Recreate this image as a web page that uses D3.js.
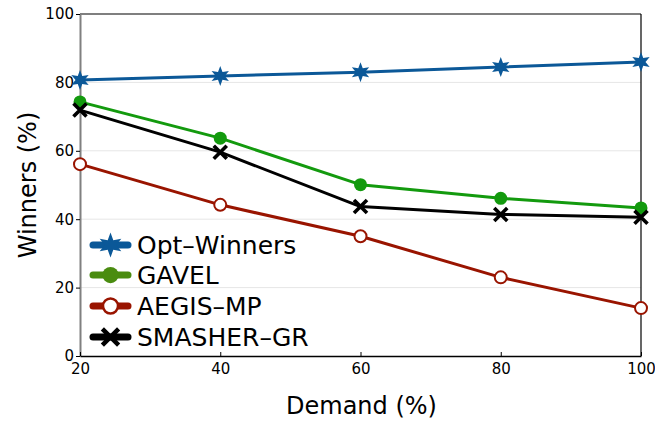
<!DOCTYPE html>
<html>
<head>
<meta charset="utf-8">
<script src="https://cdn.jsdelivr.net/npm/d3@7"></script>
<style>
  html, body { margin: 0; padding: 0; background: #fff; }
  svg { display: block; font-family: "DejaVu Sans", sans-serif; }
</style>
</head>
<body>
<svg id="chart" width="655" height="423"></svg>
<script>
// Demand levels (%) on the x axis
const demand = [20, 40, 60, 80, 100];

// Share of winners (%) per method
const optWinners = [80.7, 81.9, 83.0, 84.5, 86.0];
const gavel      = [74.3, 63.7, 50.1, 46.1, 43.3];
const aegisMp    = [56.1, 44.2, 35.0, 23.0, 14.0];
const smasherGr  = [71.9, 59.6, 43.7, 41.4, 40.6];

const seriesNames = ["Opt\u2013Winners", "GAVEL", "AEGIS\u2013MP", "SMASHER\u2013GR"];
const xTicks = [20, 40, 60, 80, 100];
const yTicks = [0, 20, 40, 60, 80, 100];

const series = [
  { name: seriesNames[0], values: optWinners, color: "#0b5898", legendColor: "#0b5898", marker: "star" },
  { name: seriesNames[1], values: gavel,      color: "#139a0e", legendColor: "#4a8c10", marker: "dot" },
  { name: seriesNames[2], values: aegisMp,    color: "#991400", legendColor: "#991400", marker: "ring" },
  { name: seriesNames[3], values: smasherGr,  color: "#000000", legendColor: "#000000", marker: "cross" }
];

const svg = d3.select("#chart");
const m = { left: 80, right: 14, top: 14, bottom: 67 };
const W = 655, H = 423;

const x = d3.scaleLinear().domain([20, 100]).range([m.left, W - m.right]);
const y = d3.scaleLinear().domain([0, 100]).range([H - m.bottom, m.top]);

// horizontal grid lines
svg.append("g").selectAll("line")
  .data(yTicks.filter(t => t > 0 && t < 100))
  .join("line")
  .attr("x1", x.range()[0]).attr("x2", x.range()[1])
  .attr("y1", d => y(d)).attr("y2", d => y(d))
  .attr("stroke", "#e6e6e6").attr("stroke-width", 1);

// frame: top and right in black
svg.append("line").attr("x1", x.range()[0]).attr("x2", x.range()[1])
  .attr("y1", y(100)).attr("y2", y(100)).attr("stroke", "#000").attr("stroke-width", 1.2);
svg.append("line").attr("x1", x(100)).attr("x2", x(100))
  .attr("y1", y(100)).attr("y2", y(0)).attr("stroke", "#000").attr("stroke-width", 1.2);

// y axis
const yAxis = svg.append("g")
  .attr("transform", `translate(${m.left},0)`)
  .call(d3.axisLeft(y).tickValues(yTicks).tickSize(4).tickSizeOuter(0).tickPadding(2));
yAxis.select(".domain").attr("stroke", "#808080").attr("stroke-width", 2);
yAxis.selectAll(".tick line").attr("stroke", "#000");
yAxis.selectAll("text").attr("font-size", 15).attr("fill", "#000")
  .attr("font-family", "DejaVu Sans");

// x axis with inward ticks
const xAxis = svg.append("g")
  .attr("transform", `translate(0,${y(0)})`)
  .call(d3.axisBottom(x).tickValues(xTicks).tickSize(-4).tickSizeOuter(0).tickPadding(7));
xAxis.select(".domain").attr("stroke", "#000").attr("stroke-width", 1.6);
xAxis.selectAll(".tick line").attr("stroke", "#000");
xAxis.selectAll("text").attr("font-size", 15).attr("fill", "#000")
  .attr("font-family", "DejaVu Sans");

// axis titles
svg.append("text")
  .attr("x", (x.range()[0] + x.range()[1]) / 2 + 1).attr("y", 414)
  .attr("text-anchor", "middle").attr("font-size", 24).attr("fill", "#000")
  .text("Demand (%)");
svg.append("text")
  .attr("transform", `translate(36,${(y(0) + y(100)) / 2}) rotate(-90)`)
  .attr("text-anchor", "middle").attr("font-size", 24).attr("fill", "#000")
  .text("Winners (%)");

// marker shapes
const star6 = d3.symbol().type({
  draw(ctx, size) {
    const R = Math.sqrt(size) * 0.62, r = R * 0.45;
    for (let i = 0; i < 12; i++) {
      const a = -Math.PI / 2 + i * Math.PI / 6;
      const rr = i % 2 === 0 ? R : r;
      const px = rr * Math.cos(a), py = rr * Math.sin(a);
      if (i === 0) ctx.moveTo(px, py); else ctx.lineTo(px, py);
    }
    ctx.closePath();
  }
});

function drawMarker(g, kind, color, scale) {
  const s = scale || 1;
  if (kind === "star") {
    g.append("path").attr("d", star6.size(260 * s * s)()).attr("fill", color);
  } else if (kind === "dot") {
    g.append("circle").attr("r", 6.5 * s).attr("fill", color);
  } else if (kind === "ring") {
    g.append("circle").attr("r", 6 * s).attr("fill", "#fff")
      .attr("stroke", color).attr("stroke-width", 2 * s);
  } else if (kind === "cross") {
    const a = 6.5 * s;
    g.append("path").attr("d", `M${-a},${-a}L${a},${a}M${-a},${a}L${a},${-a}`)
      .attr("stroke", color).attr("stroke-width", 3.6 * s).attr("fill", "none");
  }
}

const line = d3.line().x((d, i) => x(demand[i])).y(d => y(d));

// draw series back to front so the top method sits above
[...series].reverse().forEach(s => {
  svg.append("path").datum(s.values)
    .attr("d", line).attr("fill", "none")
    .attr("stroke", s.color).attr("stroke-width", 3)
    .attr("stroke-linejoin", "round");
});
series.forEach(s => {
  s.values.forEach((v, i) => {
    const g = svg.append("g").attr("transform", `translate(${x(demand[i])},${y(v)})`);
    drawMarker(g, s.marker, s.color, 1);
  });
});

// legend
const legend = svg.append("g");
const legendY = [245, 275, 306, 337];
series.forEach((s, i) => {
  const g = legend.append("g").attr("transform", `translate(0,${legendY[i]})`);
  g.append("line").attr("x1", 93).attr("x2", 128).attr("y1", 0).attr("y2", 0)
    .attr("stroke", s.legendColor).attr("stroke-width", 7).attr("stroke-linecap", "round");
  const mk = g.append("g").attr("transform", "translate(110.5,0)");
  drawMarker(mk, s.marker, s.legendColor, 1.25);
  g.append("text").attr("x", 137).attr("y", 0).attr("dy", "0.36em")
    .attr("font-size", 25).attr("fill", "#000").text(s.name);
});
</script>
</body>
</html>
